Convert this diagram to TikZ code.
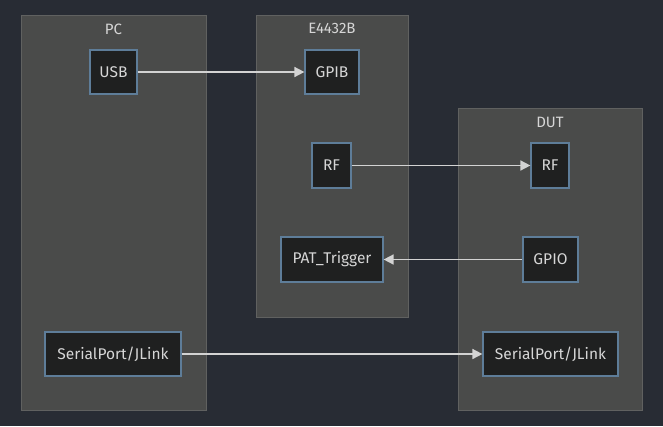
\documentclass[tikz,border=0pt]{standalone}
\usepackage{fontspec}
\setmainfont{Fira Sans}
\usetikzlibrary{arrows.meta}
\definecolor{bgc}{RGB}{40,44,52}
\definecolor{clfill}{RGB}{74,75,74}
\definecolor{cldraw}{RGB}{96,97,96}
\definecolor{ndfill}{RGB}{31,32,32}
\definecolor{nddraw}{RGB}{94,125,153}
\definecolor{txt}{RGB}{214,214,214}
\definecolor{edge}{RGB}{211,211,211}
\tikzset{
  cluster/.style={draw=cldraw, fill=clfill, line width=1pt},
  cltitle/.style={text=txt, font=\fontsize{15}{17}\selectfont, inner sep=0pt},
  box/.style={draw=nddraw, fill=ndfill, line width=1.2pt, text=txt, inner sep=0pt,
    font=\fontsize{15.5}{17}\selectfont},
  conn/.style={draw=edge, line width=1.6pt, -{Triangle[length=10pt,width=10pt]}},
}
\begin{document}
\begin{tikzpicture}[x=1pt,y=-1pt]
\fill[bgc] (0,0) rectangle (663,426);
\useasboundingbox (0,0) rectangle (663,426);
% clusters
\path[cluster] (21,15) rectangle (206,410);
\path[cluster] (256,15) rectangle (408,317);
\path[cluster] (458,108) rectangle (642,410);
\node[cltitle] (tpc) at (113.5,29) {PC};
\node[cltitle] (te) at (332,28) {E4432B};
\node[cltitle] (tdut) at (550,122) {DUT};
% nodes
\node[box, minimum width=47pt, minimum height=44pt] (usb) at (113.5,72) {USB};
\node[box, minimum width=54pt, minimum height=44pt] (gpib) at (332,72) {GPIB};
\node[box, minimum width=39pt, minimum height=45pt] (rf1) at (331.5,165.5) {RF};
\node[box, minimum width=102pt, minimum height=45pt] (pat) at (332,259.5) {PAT\_Trigger};
\node[box, minimum width=38pt, minimum height=45pt] (rf2) at (550,165.5) {RF};
\node[box, minimum width=55pt, minimum height=45pt] (gpio) at (550.5,259.5) {GPIO};
\node[box, minimum width=136pt, minimum height=44pt] (sp1) at (113,354) {SerialPort/JLink};
\node[box, minimum width=135pt, minimum height=44pt] (sp2) at (550.5,354) {SerialPort/JLink};
% connectors
\draw[conn] (usb) -- (gpib);
\draw[conn] (rf1) -- (rf2);
\draw[conn] (gpio) -- (pat);
\draw[conn] (sp1) -- (sp2);
\end{tikzpicture}
\end{document}
